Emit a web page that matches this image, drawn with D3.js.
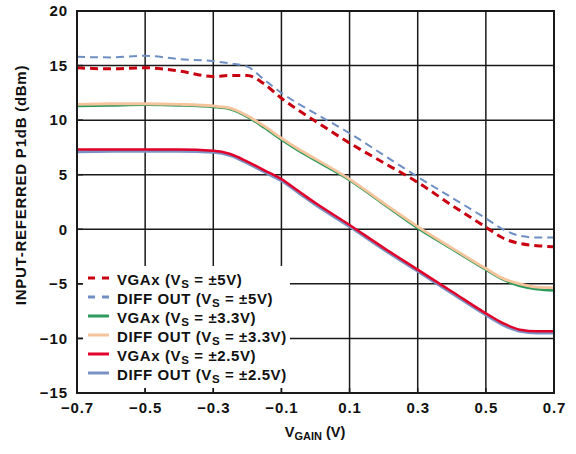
<!DOCTYPE html>
<html><head><meta charset="utf-8">
<script src="https://cdn.jsdelivr.net/npm/d3@7"></script>
<style>body{margin:0;background:#fff}text{font-family:"Liberation Sans",Arial,sans-serif;font-weight:bold;fill:#111}</style>
</head><body><svg id="c" width="576" height="454"></svg>
<script>
const xVals = [-0.7,-0.6,-0.5,-0.4,-0.3,-0.25,-0.2,-0.15,-0.1,-0.05,0,0.1,0.2,0.3,0.4,0.5,0.55,0.6,0.65,0.7];
const diff5  = [15.8,15.75,15.9,15.6,15.4,15.2,14.9,13.7,12.5,11.5,10.6,8.8,6.8,4.8,2.9,1.0,0.0,-0.6,-0.75,-0.75];
const vga5   = [14.8,14.7,14.8,14.5,14.0,14.1,14.1,13.3,12.0,10.9,9.9,7.9,6.1,4.3,2.2,0.2,-0.8,-1.3,-1.5,-1.6];
const vga33  = [11.3,11.35,11.4,11.35,11.2,11.0,10.3,9.3,8.2,7.2,6.3,4.5,2.3,0.1,-1.8,-3.7,-4.6,-5.2,-5.5,-5.6];
const diff33 = [11.45,11.5,11.5,11.45,11.3,11.1,10.4,9.45,8.35,7.35,6.45,4.6,2.4,0.25,-1.7,-3.6,-4.5,-5.0,-5.3,-5.35];
const vga25  = [7.3,7.3,7.3,7.3,7.2,6.9,6.2,5.4,4.6,3.5,2.4,0.4,-1.7,-3.7,-5.7,-7.7,-8.6,-9.2,-9.35,-9.35];
const diff25 = [7.1,7.15,7.15,7.15,7.05,6.75,6.05,5.25,4.45,3.35,2.25,0.25,-1.85,-3.85,-5.85,-7.85,-8.75,-9.35,-9.5,-9.5];
const xTicks = [-0.7,-0.5,-0.3,-0.1,0.1,0.3,0.5,0.7];
const yTicks = [-15,-10,-5,0,5,10,15,20];
const seriesNames = ["VGAx","DIFF OUT","VGAx","DIFF OUT","VGAx","DIFF OUT"];
const seriesSupply = ["±5V","±5V","±3.3V","±3.3V","±2.5V","±2.5V"];
const seriesData = [vga5,diff5,vga33,diff33,vga25,diff25];
const seriesColor = ["#c8000f","#6f8fc4","#2e9a5c","#f6c49c","#e0002a","#7a92c4"];
const seriesWidth = [3,2,2.5,2.8,2.5,3];
const seriesDash = ["8,5","8,5",null,null,null,null];
const drawOrder = [1,0,2,3,5,4];

const svg = d3.select("#c");
const L=77,T=11,R=554,B=393;
const x = d3.scaleLinear().domain([-0.7,0.7]).range([L,R]);
const y = d3.scaleLinear().domain([-15,20]).range([B,T]);

const g = svg.append("g");
g.selectAll(".vg").data(xTicks).join("line").attr("x1",d=>x(d)).attr("x2",d=>x(d)).attr("y1",T).attr("y2",B).attr("stroke","#1a1a1a").attr("stroke-width",1.5);
g.selectAll(".hg").data(yTicks).join("line").attr("y1",d=>y(d)).attr("y2",d=>y(d)).attr("x1",L).attr("x2",R).attr("stroke","#1a1a1a").attr("stroke-width",1.5);

const xa = svg.append("g").attr("transform",`translate(0,${B})`).call(d3.axisBottom(x).tickValues(xTicks).tickSize(0).tickPadding(9).tickFormat(d=>d3.format(".1f")(d).replace("-","\u2212")));
xa.select(".domain").remove();
xa.selectAll("text").attr("font-size",15).attr("letter-spacing","0.9px").attr("font-family","Liberation Sans, Arial").attr("font-weight","bold").attr("fill","#111");
const ya = svg.append("g").attr("transform",`translate(${L},0)`).call(d3.axisLeft(y).tickValues(yTicks).tickSize(0).tickPadding(9).tickFormat(d=>String(d).replace("-","\u2212")));
ya.select(".domain").remove();
ya.selectAll("text").attr("font-size",15).attr("letter-spacing","0.9px").attr("font-family","Liberation Sans, Arial").attr("font-weight","bold").attr("fill","#111");

const line = d3.line().x((d,i)=>x(xVals[i])).y(d=>y(d)).curve(d3.curveMonotoneX);
svg.append("clipPath").attr("id","cl").append("rect").attr("x",L).attr("y",T).attr("width",R-L).attr("height",B-T);
drawOrder.forEach(i=>{
  svg.append("path").datum(seriesData[i]).attr("d",line).attr("fill","none")
    .attr("stroke",seriesColor[i]).attr("stroke-width",seriesWidth[i])
    .attr("stroke-dasharray",seriesDash[i]).attr("clip-path","url(#cl)");
});

svg.append("rect").attr("x",83).attr("y",266).attr("width",207).attr("height",122).attr("fill","#fff");
svg.selectAll(".bt").data(xTicks).join("line").attr("x1",d=>x(d)).attr("x2",d=>x(d)).attr("y1",B-5).attr("y2",B).attr("stroke","#1a1a1a").attr("stroke-width",1.5);
svg.selectAll(".lt").data(yTicks).join("line").attr("y1",d=>y(d)).attr("y2",d=>y(d)).attr("x1",L).attr("x2",L+6).attr("stroke","#1a1a1a").attr("stroke-width",1.5);

const leg = svg.append("g");
seriesNames.forEach((n,i)=>{
  const yy = 278 + i*19;
  leg.append("line").attr("x1",88).attr("x2",109).attr("y1",yy).attr("y2",yy)
    .attr("stroke",seriesColor[i]).attr("stroke-width",3).attr("stroke-dasharray",seriesDash[i]?"7,7":null);
  const t = leg.append("text").attr("x",117).attr("y",yy+6.5).attr("font-size",15).attr("letter-spacing","0.6px");
  t.append("tspan").text(n+" (V");
  t.append("tspan").attr("font-size",11.5).attr("dy",3).text("S");
  t.append("tspan").attr("dy",-3).text(" = "+seriesSupply[i]+")");
});

svg.append("rect").attr("x",L).attr("y",T).attr("width",R-L).attr("height",B-T).attr("fill","none").attr("stroke","#1a1a1a").attr("stroke-width",2);

const xt = svg.append("text").attr("x",315).attr("y",437).attr("text-anchor","middle").attr("font-size",14.5);
xt.append("tspan").text("V");
xt.append("tspan").attr("font-size",11).attr("dy",3).text("GAIN");
xt.append("tspan").attr("dy",-3).text(" (V)");
svg.append("text").attr("transform",`translate(26,185) rotate(-90)`).attr("text-anchor","middle").attr("font-size",15).attr("letter-spacing","0.75px").text("INPUT-REFERRED P1dB (dBm)");
</script></body></html>
